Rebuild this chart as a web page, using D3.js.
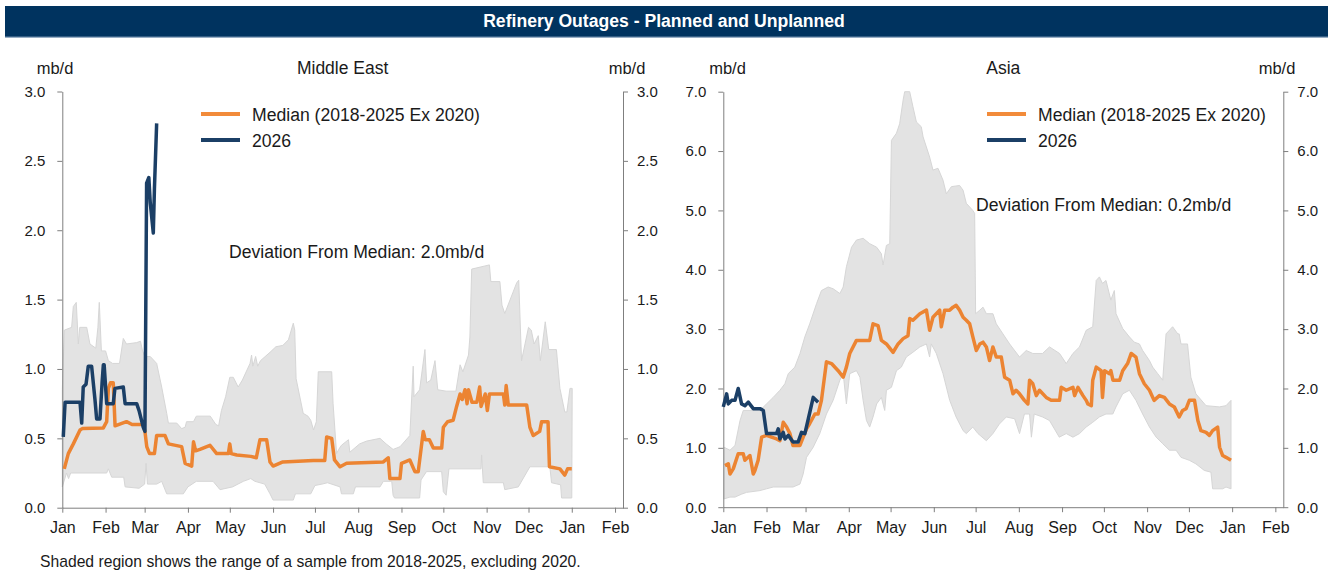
<!DOCTYPE html>
<html>
<head>
<meta charset="utf-8">
<script src="https://cdn.jsdelivr.net/npm/d3@7"></script>
<style>
  body { margin: 0; background: #fff; font-family: "Liberation Sans", Arial, sans-serif; }
  .axis path, .axis line { stroke: #7f7f7f; }
  .axis text { fill: #1a1a1a; font-family: "Liberation Sans", Arial, sans-serif; }
</style>
</head>
<body>
<div id="chart"></div>
<script>
// month ticks (day of year) and labels
var monthDays = [0, 31, 59, 90, 120, 151, 181, 212, 243, 273, 304, 334, 365, 396];
var monthNames = ["Jan", "Feb", "Mar", "Apr", "May", "Jun", "Jul", "Aug", "Sep", "Oct", "Nov", "Dec", "Jan", "Feb"];

// Middle East, [day, mb/d]
var meMedian = [[1.4,0.28],[4.3,0.39],[7.9,0.46],[12.7,0.56],[14.3,0.57],[29.4,0.575],[31.8,0.62],[33,0.86],[34.5,0.9],[36.5,0.9],[37.8,0.59],[46,0.62],[50,0.6],[58,0.6],[59.2,0.55],[60.5,0.44],[62.5,0.39],[66,0.39],[67.6,0.52],[73.6,0.52],[76,0.46],[85.5,0.44],[88,0.32],[92.7,0.3],[94,0.475],[95.5,0.41],[98.6,0.42],[105.8,0.45],[110.6,0.39],[119,0.39],[120,0.46],[121,0.39],[125,0.38],[135,0.37],[139,0.36],[141.6,0.49],[146.4,0.49],[148.8,0.33],[151,0.3],[158,0.33],[179.8,0.34],[188,0.34],[189.4,0.51],[193,0.5],[195,0.344],[199,0.295],[203.7,0.32],[230,0.33],[233.5,0.36],[234.7,0.21],[241.9,0.21],[243,0.32],[249,0.344],[252.6,0.26],[255,0.26],[258.6,0.55],[260,0.49],[263,0.49],[265.8,0.43],[271.8,0.43],[273,0.58],[276,0.62],[280,0.63],[282.5,0.73],[285,0.82],[286.5,0.78],[288.5,0.85],[290,0.75],[291,0.85],[293.5,0.76],[297,0.76],[299,0.87],[300,0.73],[303,0.82],[304.5,0.7],[306,0.82],[316,0.82],[317,0.74],[318,0.88],[319.5,0.74],[332.7,0.74],[335,0.58],[337.4,0.52],[342,0.55],[343.4,0.62],[348,0.62],[349,0.295],[356.5,0.28],[360,0.235],[362,0.28],[365,0.28]];
var me2026 = [[0.7,0.51],[2,0.76],[12.7,0.76],[13.9,0.61],[15,0.87],[17,0.89],[18.6,1.02],[21,1.02],[23.4,0.78],[24.6,0.64],[27,0.64],[28.5,0.9],[29.4,1.03],[30,1.03],[31.8,0.75],[36.5,0.75],[37.7,0.86],[43.7,0.87],[45,0.75],[53.3,0.75],[55,0.7],[58,0.58],[59.2,0.55],[59.8,1.42],[60.4,2.34],[62,2.38],[63,2.2],[65.2,1.98],[66,2.3],[67.6,2.77]];
var meHigh = [[0,0.85],[1.5,1.28],[6.7,1.3],[7.9,1.45],[10,1.48],[11.5,1.18],[12.5,1.3],[17.5,1.3],[19.8,1.18],[24,1.15],[25.5,1.3],[26.5,1.48],[28,1.13],[31,1.13],[33,1.06],[36,1.04],[41,1.04],[43.7,1.22],[46,1.18],[53.3,1.19],[56,1.2],[57.5,1.13],[59.2,1.09],[63,1.09],[67.6,1.04],[71.2,0.87],[74.8,0.68],[76,0.61],[82,0.61],[85.5,0.57],[88,0.58],[89,0.62],[94,0.62],[96,0.66],[106,0.66],[110,0.6],[112,0.59],[114,0.7],[117,0.8],[120,0.94],[122.5,0.94],[126,0.87],[129,0.92],[134.5,1.04],[135.6,1.1],[136.5,1.02],[138.5,1.09],[140,1.02],[142,1.06],[148.8,1.12],[153,1.16],[158,1.17],[162,1.21],[165.5,1.33],[166.5,1.28],[167.5,0.93],[172.6,0.68],[176,0.66],[178,0.63],[180,0.56],[182,0.62],[183.4,0.98],[193,0.98],[194,0.75],[196.5,0.39],[198,0.42],[200,0.45],[205,0.49],[206,0.4],[213,0.46],[218,0.48],[227.6,0.5],[232,0.46],[237,0.42],[242,0.44],[249,0.52],[251.4,1.02],[252,0.8],[256,0.85],[259.8,1.14],[261,0.9],[264,0.92],[267,1.06],[269,0.85],[275,0.84],[282,0.84],[285,1.03],[287,0.98],[291,1.1],[292,1.23],[293.3,1.72],[306,1.75],[307,1.63],[313.5,1.63],[315,1.46],[317,1.4],[325.5,1.62],[327,1.64],[329,1.06],[334,1.3],[336,1.28],[338,1.18],[341,1.24],[342.5,1.06],[346,1.34],[348.5,1.14],[354,1.14],[356.5,0.86],[360,0.69],[361.5,0.69],[363.7,0.86],[365.3,0.86]];
var meLow = [[0,0.15],[3,0.25],[4.5,0.21],[6,0.25],[31.8,0.25],[33,0.28],[35.4,0.22],[44,0.22],[45,0.15],[55,0.14],[59,0.17],[60,0.32],[61,0.17],[67.6,0.17],[71.2,0.19],[74.8,0.1],[86.7,0.1],[90,0.15],[96,0.19],[108,0.19],[113,0.13],[122,0.15],[129.7,0.19],[135,0.21],[138,0.19],[145,0.17],[148.8,0.1],[151,0.055],[165.5,0.055],[167,0.1],[178,0.1],[181,0.16],[186,0.17],[190,0.18],[199,0.15],[200,0.1],[208.5,0.1],[210,0.15],[227.6,0.15],[230,0.19],[236,0.19],[237,0.09],[238,0.07],[256,0.07],[257,0.2],[260.9,0.26],[271.8,0.26],[273,0.115],[275,0.09],[277,0.28],[300,0.28],[300.4,0.38],[301.6,0.18],[316,0.18],[317,0.13],[326.7,0.15],[335,0.295],[349.3,0.295],[350.5,0.18],[357,0.165],[357.7,0.07],[365,0.07]];

// Asia, [day, mb/d]
var asiaMedian = [[1.2,0.7],[3.6,0.73],[4.8,0.56],[7.2,0.65],[10.7,0.9],[14.3,0.9],[15.5,0.79],[19.1,0.87],[21.5,0.56],[22.7,0.62],[25,0.79],[27.5,1.18],[31,1.21],[34.6,1.18],[38.2,1.15],[40.6,1.12],[43,1.43],[45.4,1.35],[47.8,1.24],[50,1.04],[55,1.04],[57.3,1.18],[59.7,1.32],[62,1.41],[65.7,1.57],[68,1.57],[70.4,1.8],[74,2.45],[77.6,2.42],[82.4,2.3],[86,2.19],[88.3,2.36],[90.7,2.59],[95.5,2.81],[105,2.81],[107.4,3.09],[111,3.06],[113.4,2.81],[117,2.75],[121.8,2.61],[125.4,2.75],[129,2.84],[132.5,2.89],[133.7,3.18],[136,3.15],[141,3.26],[145.7,3.32],[148,2.98],[150.4,3.2],[155.2,3.32],[156.4,3.04],[158.8,3.32],[162.4,3.32],[164.8,3.37],[167,3.4],[169.5,3.32],[172,3.2],[174.3,3.15],[176.7,3.09],[179,2.87],[181.5,2.64],[184,2.75],[186.3,2.78],[188.7,2.7],[191,2.47],[193.4,2.7],[195.8,2.53],[199.4,2.53],[201.8,2.19],[205.4,2.14],[207.8,1.91],[210,1.97],[212.5,1.91],[216,1.8],[218.5,1.74],[219.7,2.14],[222,2.08],[224.5,1.88],[226.8,1.97],[231.6,1.85],[235.2,1.8],[241.2,1.8],[242.4,2.02],[246,1.97],[250.8,2.02],[252,1.88],[254.4,2.02],[258,1.88],[260.3,1.8],[261.5,1.74],[264,1.71],[265,2.14],[267.5,2.36],[271,2.3],[272,1.85],[273.5,2.3],[277,2.25],[278,2.3],[279.5,2.14],[284.3,2.14],[286.5,2.3],[290,2.42],[292.6,2.59],[296,2.53],[298.5,2.25],[302,2.08],[305.7,1.97],[309,1.8],[312.8,1.88],[316.4,1.85],[320,1.74],[323.5,1.69],[327,1.52],[329.5,1.63],[332,1.66],[334.3,1.8],[338,1.8],[340.4,1.46],[342.6,1.29],[346.3,1.26],[348.7,1.21],[351,1.29],[354.6,1.35],[356,1.01],[358.2,0.87],[360.6,0.84],[364.2,0.79]];
var asia2026 = [[0,1.69],[2.4,1.91],[3.6,1.74],[6,1.8],[8.4,1.8],[10.7,2.0],[13.1,1.74],[15.5,1.71],[17.9,1.77],[21.5,1.66],[26.3,1.66],[28.7,1.63],[31,1.24],[38.2,1.24],[39.4,1.32],[40.6,1.15],[43,1.26],[44.2,1.15],[46.6,1.21],[50,1.1],[53.7,1.1],[56.1,1.26],[58.5,1.24],[61,1.49],[64.5,1.85],[68,1.77]];
var asiaHigh = [[0.5,1.01],[4.8,0.96],[8.4,1.04],[12,1.46],[14.3,1.63],[26.3,1.63],[31,1.74],[35.8,1.85],[40.6,1.97],[44.2,2.08],[46.6,2.25],[51.3,2.36],[55,2.59],[58.5,2.87],[62,3.09],[66.9,3.43],[70.4,3.65],[75.2,3.71],[78.8,3.68],[83.6,3.6],[86,3.71],[88.3,4.05],[92,4.38],[95.5,4.5],[100.3,4.53],[105,4.44],[110,4.38],[113.4,4.27],[114.6,4.08],[117,4.41],[119.4,4.44],[120.6,6.18],[124.2,6.3],[126.5,6.46],[129,6.86],[130.1,7.0],[133.7,7.0],[136,6.75],[138.5,6.49],[142,6.41],[143.3,6.24],[148,5.9],[150.4,5.68],[154,5.71],[157.6,5.51],[160,5.28],[163.6,5.4],[169.5,5.42],[172,5.34],[174.3,5.12],[179,5.0],[180.3,4.95],[181,3.26],[184,3.32],[186.3,3.37],[188.7,3.26],[193.4,3.26],[195.8,3.09],[200.6,2.92],[205.4,2.75],[212.5,2.53],[217.3,2.64],[222,2.59],[229,2.59],[234,2.7],[241.2,2.59],[246,2.42],[250.8,2.59],[255.5,2.7],[260.3,2.98],[265,3.04],[267.5,3.82],[269.8,3.88],[272,3.77],[274.5,3.82],[278,3.49],[280.5,3.65],[281.7,3.26],[286.5,3.01],[291.3,2.87],[294.8,2.78],[298.5,2.75],[300.8,2.64],[305.7,2.47],[308,2.36],[311.6,2.25],[315.2,2.14],[317.6,2.92],[322.3,3.04],[326,2.92],[327,2.92],[328.3,2.75],[333,2.75],[335.4,2.19],[339,1.91],[346.3,1.71],[355.8,1.69],[360.6,1.71],[364.2,1.8]];
var asiaLow = [[0.5,0.14],[4.8,0.17],[8.4,0.17],[13.1,0.22],[16.7,0.25],[26.3,0.28],[31,0.31],[35.8,0.34],[50,0.34],[55,0.39],[57.3,0.56],[59.7,0.84],[64.5,1.01],[69.2,1.24],[74,1.57],[78.8,1.8],[83.6,2.14],[86,2.25],[88.3,1.74],[90.7,2.25],[95.5,2.3],[98,2.19],[100.3,1.8],[102.7,1.46],[105,1.35],[107.4,1.52],[110,1.74],[113.4,1.85],[115.8,1.63],[117,1.97],[120.6,2.02],[124.2,2.3],[127.7,2.36],[131.3,2.53],[136,2.61],[141,2.7],[145.7,2.75],[148,2.53],[149.2,2.75],[152.8,2.59],[157.6,2.25],[162.4,1.8],[167,1.52],[172,1.29],[174.3,1.24],[179,1.35],[182.7,1.24],[188.7,1.12],[193.4,1.24],[198,1.4],[203,1.52],[209,1.49],[212.5,1.24],[216,1.57],[219.7,1.57],[221,1.18],[223,1.57],[229,1.52],[234,1.46],[241,1.18],[246,1.24],[250.8,1.18],[255.5,1.24],[260.3,1.35],[265,1.43],[269.8,1.52],[274.5,1.57],[279.4,1.57],[281.7,1.69],[286.5,1.91],[291.3,1.97],[296,1.8],[300.8,1.57],[305.7,1.35],[310.5,1.18],[315.2,1.07],[320,0.96],[324.8,0.96],[328.3,0.84],[334.3,0.79],[339,0.73],[345,0.62],[349.8,0.59],[351,0.31],[358.2,0.31],[360.6,0.34],[364.2,0.31]];

var orange = "#ec8432", navy = "#1b3f66";

var W = 1333, H = 573;
var svg = d3.select("#chart").append("svg")
  .attr("width", W)
  .attr("height", H);

// title bar
svg.append("rect").attr("x", 5).attr("y", 6).attr("width", 1323).attr("height", 31).attr("fill", "#00335f");
svg.append("rect").attr("x", 5).attr("y", 36.5).attr("width", 1323).attr("height", 1.2).attr("fill", "#6d8cab");
svg.append("text")
  .attr("x", 664).attr("y", 27)
  .attr("text-anchor", "middle")
  .attr("fill", "#fff")
  .style("font-weight", "bold")
  .style("font-size", "17.6px")
  .text("Refinery Outages - Planned and Unplanned");

// footnote
svg.append("text")
  .attr("x", 40).attr("y", 567)
  .attr("fill", "#1a1a1a")
  .style("font-size", "15.7px")
  .text("Shaded region shows the range of a sample from 2018-2025, excluding 2020.");

function panel(p) {
  var g = svg.append("g");

  var x = d3.scaleLinear().domain([0, 401.7]).range([p.x0, p.x1]);
  var y = d3.scaleLinear().domain([0, p.yMax]).range([p.yBot, p.yTop]);

  // shaded range: upper edge forward, lower edge back
  var band = p.high.concat(p.low.slice().reverse());
  var line = d3.line()
    .x(function(d) { return x(d[0]); })
    .y(function(d) { return y(d[1]); });

  g.append("path")
    .attr("d", line(band) + "Z")
    .attr("fill", "#e3e3e3")
    .attr("stroke", "#d6d6d6")
    .attr("stroke-width", 1);

  // axes
  var yTicks = d3.range(0, p.yMax + 0.001, p.yStep);
  g.append("g").attr("class", "axis")
    .attr("transform", "translate(0," + p.yBot + ")")
    .call(d3.axisBottom(x).tickValues(monthDays)
      .tickFormat(function(d, i) { return monthNames[i]; })
      .tickSize(5).tickSizeOuter(0).tickPadding(9))
    .selectAll("text").style("font-size", "16px");

  g.append("g").attr("class", "axis")
    .attr("transform", "translate(" + p.x0 + ",0)")
    .call(d3.axisLeft(y).tickValues(yTicks).tickFormat(d3.format(".1f"))
      .tickSize(5).tickSizeOuter(0).tickPadding(12))
    .selectAll("text").style("font-size", "15px");

  g.append("g").attr("class", "axis")
    .attr("transform", "translate(" + p.x1 + ",0)")
    .call(d3.axisRight(y).tickValues(yTicks).tickFormat(d3.format(".1f"))
      .tickSize(5).tickSizeOuter(0).tickPadding(9))
    .selectAll("text").style("font-size", "15px");

  g.selectAll(".axis path, .axis line").attr("stroke", "#7f7f7f");

  // series
  g.append("path").datum(p.median)
    .attr("d", line)
    .attr("fill", "none")
    .attr("stroke", orange)
    .attr("stroke-width", 3.5)
    .attr("stroke-linejoin", "round");

  g.append("path").datum(p.current)
    .attr("d", line)
    .attr("fill", "none")
    .attr("stroke", navy)
    .attr("stroke-width", 3.5)
    .attr("stroke-linejoin", "round");

  // titles and units
  g.append("text")
    .attr("x", (p.x0 + p.x1) / 2).attr("y", 74)
    .attr("text-anchor", "middle").attr("fill", "#1a1a1a")
    .style("font-size", "17.5px")
    .text(p.title);
  g.append("text")
    .attr("x", p.unitL).attr("y", 74)
    .attr("text-anchor", "middle").attr("fill", "#1a1a1a")
    .style("font-size", "16.5px")
    .text("mb/d");
  g.append("text")
    .attr("x", p.unitR).attr("y", 74)
    .attr("text-anchor", "middle").attr("fill", "#1a1a1a")
    .style("font-size", "16.5px")
    .text("mb/d");

  // legend
  var legend = [
    { name: "Median (2018-2025 Ex 2020)", color: "#f28b3a", yy: 114 },
    { name: "2026", color: navy, yy: 140 }
  ];
  legend.forEach(function(l) {
    g.append("line")
      .attr("x1", p.legX).attr("x2", p.legX + 39)
      .attr("y1", l.yy).attr("y2", l.yy)
      .attr("stroke", l.color).attr("stroke-width", 4);
    g.append("text")
      .attr("x", p.legX + 51).attr("y", l.yy + 6.5)
      .attr("fill", "#1a1a1a")
      .style("font-size", "17.6px")
      .text(l.name);
  });

  g.append("text")
    .attr("x", p.devX).attr("y", p.devY)
    .attr("fill", "#1a1a1a")
    .style("font-size", "17.6px")
    .text(p.devText);
}

panel({
  x0: 62.3, x1: 623, yTop: 91.5, yBot: 507.7, yMax: 3, yStep: 0.5,
  title: "Middle East", unitL: 55, unitR: 627,
  legX: 201, devX: 229, devY: 257.5,
  devText: "Deviation From Median: 2.0mb/d",
  high: meHigh, low: meLow, median: meMedian, current: me2026
});

panel({
  x0: 723.3, x1: 1283.3, yTop: 91.7, yBot: 507.2, yMax: 7, yStep: 1,
  title: "Asia", unitL: 727.5, unitR: 1277,
  legX: 987, devX: 976, devY: 211,
  devText: "Deviation From Median: 0.2mb/d",
  high: asiaHigh, low: asiaLow, median: asiaMedian, current: asia2026
});
</script>
</body>
</html>
